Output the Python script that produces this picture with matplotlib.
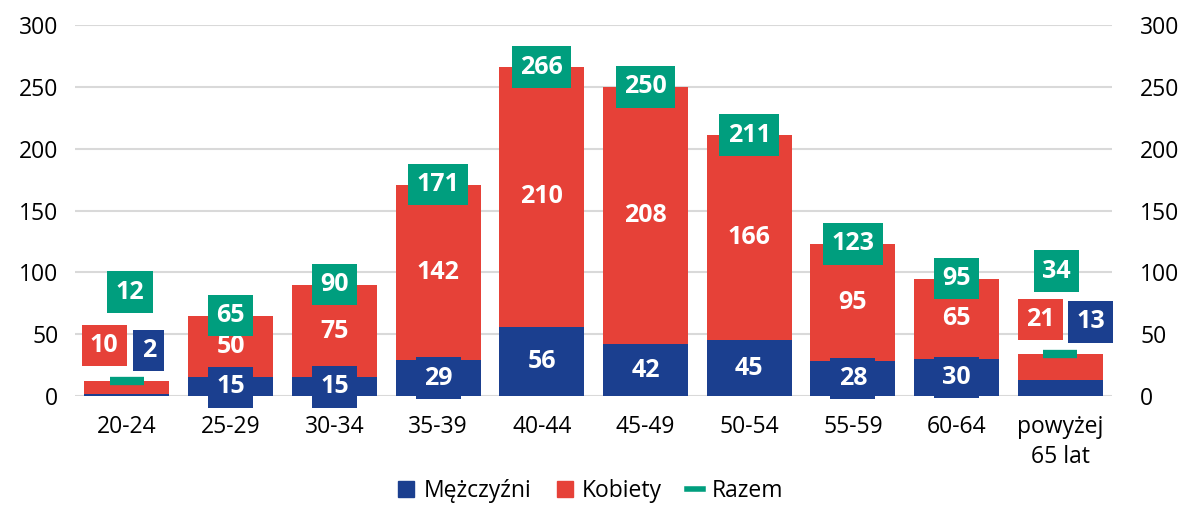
import matplotlib.pyplot as plt
import numpy as np
from matplotlib.lines import Line2D
from matplotlib.patches import Patch

plt.rcParams['font.family'] = ['Open Sans', 'DejaVu Sans']

categories = ["20-24", "25-29", "30-34", "35-39", "40-44", "45-49",
              "50-54", "55-59", "60-64", "powyżej\n65 lat"]
men = [2, 15, 15, 29, 56, 42, 45, 28, 30, 13]
women = [10, 50, 75, 142, 210, 208, 166, 95, 65, 21]
total = [12, 65, 90, 171, 266, 250, 211, 123, 95, 34]

c_men = "#1B3F8F"
c_women = "#E64138"
c_total = "#009E7E"

# labels moved by hand for the two small bars: (dx, y)
moved = {
    0: {"men": (0.21, 37), "women": (-0.22, 41), "total": (0.03, 84)},
    9: {"men": (0.29, 60), "women": (-0.19, 62), "total": (-0.04, 101)},
}

fig = plt.figure(figsize=(11.82, 5.11), dpi=100)
ax = fig.add_axes([0.0635, 0.225, 0.8775, 0.726])
x = np.arange(len(categories))

ax.bar(x, men, width=0.82, color=c_men, label="Mężczyźni", zorder=2)
ax.bar(x, women, width=0.82, bottom=men, color=c_women, label="Kobiety", zorder=2)
ax.plot(x, total, linestyle="none", marker="_", markersize=25, markeredgewidth=6,
        color=c_total, label="Razem", zorder=3)


def box(xp, yp, val, col):
    ax.text(xp, yp, str(val), ha="center", va="center", color="white",
            fontsize=18, fontweight="bold", zorder=5,
            bbox=dict(boxstyle="square,pad=0.33", fc=col, ec="none"))


for i in range(len(categories)):
    if i in moved:
        dx, yy = moved[i]["men"]
        box(i + dx, yy, men[i], c_men)
        dx, yy = moved[i]["women"]
        box(i + dx, yy, women[i], c_women)
        dx, yy = moved[i]["total"]
        box(i + dx, yy, total[i], c_total)
    else:
        box(i, men[i] / 2, men[i], c_men)
        box(i, men[i] + women[i] / 2, women[i], c_women)
        box(i, total[i], total[i], c_total)

ax.set_xlim(-0.5, len(categories) - 0.5)
ax.set_ylim(0, 300)
ax.set_yticks(range(0, 301, 50))
ax.set_xticks(x)
ax.set_xticklabels(categories, fontsize=16.5, linespacing=1.3)
ax.tick_params(axis="both", length=0, labelsize=16.5)
ax.tick_params(axis="x", pad=14)
ax.tick_params(axis="y", pad=12)
ax.grid(axis="y", color="#D9D9D9", linewidth=1.5, zorder=0)
ax.set_axisbelow(True)
for s in ax.spines.values():
    s.set_visible(False)

ax2 = ax.twinx()
ax2.set_ylim(0, 300)
ax2.set_yticks(range(0, 301, 50))
ax2.tick_params(axis="y", length=0, labelsize=16.5, pad=20)
for s in ax2.spines.values():
    s.set_visible(False)

handles = [Patch(color=c_men), Patch(color=c_women),
           Line2D([0], [0], color=c_total, linewidth=4)]
fig.legend(handles, ["Mężczyźni", "Kobiety", "Razem"], loc="lower center",
           ncol=3, frameon=False, fontsize=16.5, bbox_to_anchor=(0.5, -0.025),
           handlelength=0.7, handleheight=0.7, handletextpad=0.4, columnspacing=1.1)

fig.savefig("out.png", dpi=100)
